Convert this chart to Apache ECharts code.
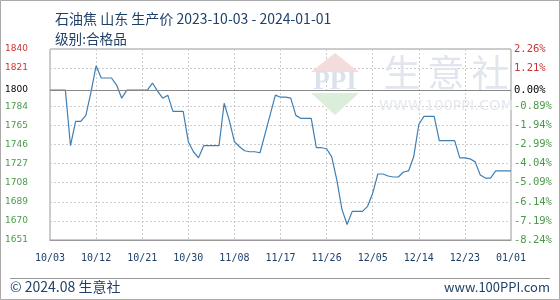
<!DOCTYPE html>
<html>
<head>
<meta charset="utf-8">
<script src="https://cdn.jsdelivr.net/npm/echarts@6/dist/echarts.min.js"></script>
<style>
html,body{margin:0;padding:0;background:#fff;}
#chart{width:560px;height:300px;}
</style>
</head>
<body>
<div id="chart"></div>
<script>
// ---- data ----
const titleText = '石油焦 山东 生产价 2023-10-03 - 2024-01-01';
const subTitleText = '级别:合格品';
const startDate = '2023-10-03';
const dayCount = 91;
const prices = [
  1800, 1800, 1800, 1800, 1745, 1769, 1769, 1775, 1798, 1824,
  1812, 1812, 1812, 1805, 1792, 1800, 1800, 1800, 1800, 1800,
  1807, 1799, 1792, 1795, 1779, 1779, 1779, 1749, 1739, 1733,
  1745, 1745, 1745, 1745, 1787, 1770, 1749, 1744, 1740, 1739,
  1739, 1738, 1757, 1776, 1795, 1793, 1793, 1792, 1775, 1772,
  1772, 1772, 1743, 1743, 1742, 1734, 1711, 1682, 1667, 1680,
  1680, 1680, 1685, 1698, 1717, 1717, 1715, 1714, 1714, 1719,
  1720, 1734, 1766, 1774, 1774, 1774, 1750, 1750, 1750, 1750,
  1733, 1733, 1732, 1729, 1716, 1713, 1713, 1720, 1720, 1720,
  1720
];
const basePrice = 1800;
const axisMin = 1651.68;
const axisMax = 1840.68;
const tickValues = [1651.68, 1670.58, 1689.48, 1708.38, 1727.28, 1746.18, 1765.08, 1783.98, 1800, 1821.78, 1840.68];
const leftTickLabels = ['1651', '1670', '1689', '1708', '1727', '1746', '1765', '1784', '1800', '1821', '1840'];
const rightTickLabels = ['-8.24%', '-7.19%', '-6.14%', '-5.09%', '-4.04%', '-2.99%', '-1.94%', '-0.89%', '0.00%', '1.21%', '2.26%'];
const footerLeft = '© 2024.08 生意社';
const footerRight = 'www.100PPI.com';

// ---- build categories ----
const dates = [];
(function () {
  const p = startDate.split('-').map(Number);
  const t0 = Date.UTC(p[0], p[1] - 1, p[2]);
  for (let i = 0; i < dayCount; i++) {
    const d = new Date(t0 + i * 86400000);
    const mm = String(d.getUTCMonth() + 1).padStart(2, '0');
    const dd = String(d.getUTCDate()).padStart(2, '0');
    dates.push(d.getUTCFullYear() + '-' + mm + '-' + dd);
  }
})();

function tickIndex(v) {
  let best = 0, bd = Infinity;
  tickValues.forEach((t, i) => { const d = Math.abs(t - v); if (d < bd) { bd = d; best = i; } });
  return best;
}
function labelColor(v) {
  const i = tickIndex(v);
  const t = tickValues[i];
  if (Math.abs(t - basePrice) < 0.01) return '#000000';
  return t > basePrice ? '#cc3333' : '#4a9a4a';
}

const chart = echarts.init(document.getElementById('chart'), null, { renderer: 'canvas' });
const navy = '#1f4068';
const wm = '#e1e6ee';

chart.setOption({
  animation: false,
  backgroundColor: '#ffffff',
  title: [
    { text: titleText, left: 50, top: 7, textStyle: { fontFamily: 'Noto Sans CJK SC', fontSize: 14, fontWeight: 'normal', color: navy } },
    { text: subTitleText, left: 50, top: 27, textStyle: { fontFamily: 'Noto Sans CJK SC', fontSize: 13.6, fontWeight: 'normal', color: navy } }
  ],
  graphic: [
    { type: 'rect', shape: { x: 0.5, y: 0.5, width: 559, height: 299 }, style: { fill: 'none', stroke: '#aaaaaa', lineWidth: 1 }, z: 0, silent: true },
    { type: 'line', shape: { x1: 10, y1: 278.5, x2: 550, y2: 278.5 }, style: { stroke: '#999999', lineWidth: 1 }, silent: true },
    { type: 'text', left: 10, top: 280, style: { text: footerLeft, fontFamily: 'Noto Sans CJK SC', fontSize: 14, fill: navy } },
    { type: 'text', right: 10, top: 281, style: { text: footerRight, fontFamily: 'Noto Sans CJK SC', fontSize: 13, fill: navy } },
    // watermark
    { type: 'polygon', shape: { points: [[335, 53], [311, 72], [359, 72]] }, style: { fill: '#f5dcdc' }, z: 1, silent: true },
    { type: 'text', x: 335, y: 82, style: { text: 'PPI', fontFamily: 'Liberation Serif', fontWeight: 'bold', fontSize: 27, fill: '#dbe2ec', align: 'center', verticalAlign: 'middle' }, z: 1, silent: true },
    { type: 'polygon', shape: { points: [[311, 93], [359, 93], [335, 115]] }, style: { fill: '#daeeda' }, z: 1, silent: true },
    { type: 'text', x: 402, y: 73, style: { text: '生', fontFamily: 'Noto Sans CJK SC', fontSize: 37, fill: wm, align: 'center', verticalAlign: 'middle' }, z: 1, silent: true },
    { type: 'text', x: 446, y: 73, style: { text: '意', fontFamily: 'Noto Sans CJK SC', fontSize: 37, fill: wm, align: 'center', verticalAlign: 'middle' }, z: 1, silent: true },
    { type: 'text', x: 490, y: 73, style: { text: '社', fontFamily: 'Noto Sans CJK SC', fontSize: 37, fill: wm, align: 'center', verticalAlign: 'middle' }, z: 1, silent: true },
    { type: 'text', x: 446, y: 106, style: { text: 'WWW.100PPI.COM', fontFamily: 'DejaVu Sans', fontSize: 14.5, fill: '#e4e8ee', align: 'center', verticalAlign: 'middle' }, z: 1, silent: true }
  ],
  grid: { left: 50, right: 49, top: 49, bottom: 60, show: true, borderColor: '#999999', borderWidth: 1, backgroundColor: 'transparent' },
  xAxis: {
    type: 'category',
    data: dates,
    boundaryGap: false,
    axisLine: { show: true, lineStyle: { color: '#999999' } },
    axisTick: { show: false },
    axisLabel: {
      interval: 8, margin: 13,
      fontFamily: 'DejaVu Sans Mono', fontSize: 10, color: navy,
      formatter: v => v.slice(5, 7) + '/' + v.slice(8, 10)
    },
    splitLine: { show: true, interval: 8, lineStyle: { color: '#cccccc', type: [2, 2], width: 1 } }
  },
  yAxis: [
    {
      type: 'value', min: axisMin, max: axisMax, position: 'left',
      axisLine: { show: false },
      axisTick: { show: false, customValues: tickValues },
      axisLabel: {
        customValues: tickValues, margin: 22,
        fontFamily: 'DejaVu Sans', fontSize: 9,
        color: v => labelColor(v),
        formatter: v => leftTickLabels[tickIndex(v)]
      },
      splitLine: { show: true, lineStyle: { color: '#cccccc', type: [2, 2], width: 1 } }
    },
    {
      type: 'value', min: axisMin, max: axisMax, position: 'right',
      axisLine: { show: false },
      axisTick: { show: false, customValues: tickValues },
      axisLabel: {
        customValues: tickValues, margin: 3,
        fontFamily: 'DejaVu Sans Mono', fontSize: 10.5,
        color: v => labelColor(v),
        formatter: v => rightTickLabels[tickIndex(v)]
      },
      splitLine: { show: false }
    }
  ],
  series: [{
    type: 'line',
    data: prices,
    yAxisIndex: 0,
    symbol: 'none',
    lineStyle: { color: '#3f7fb3', width: 1.2 },
    z: 3,
    markLine: {
      silent: true, symbol: 'none', label: { show: false },
      lineStyle: { color: '#888888', type: 'solid', width: 1 },
      data: [{ yAxis: basePrice }]
    }
  }]
});
</script>
</body>
</html>
